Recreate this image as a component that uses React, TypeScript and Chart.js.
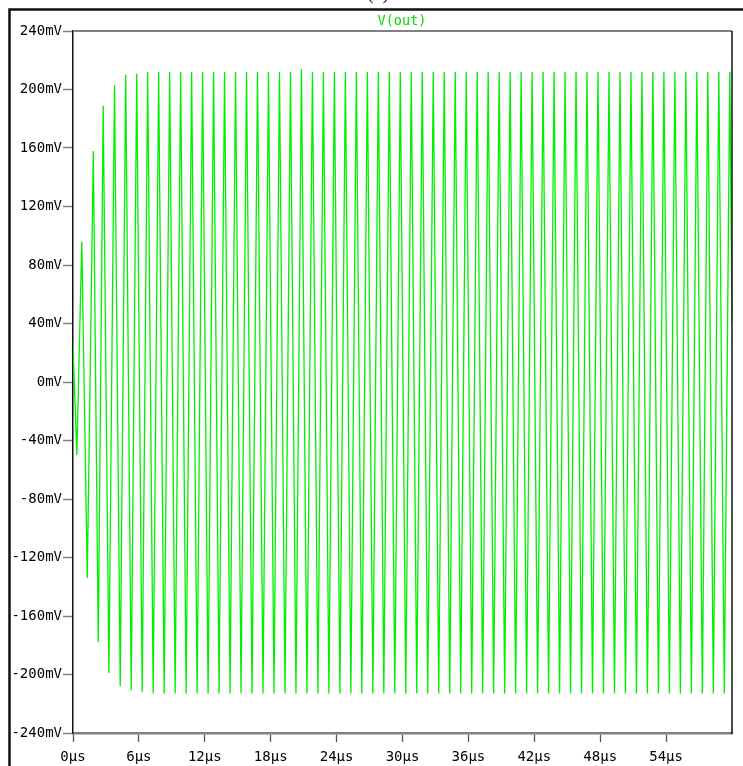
import React, { useEffect, useRef } from "react";
import { Chart, registerables } from "chart.js";

Chart.register(...registerables);

// Waveform V(out): start value, then alternating trough / peak extrema (time in µs, value in mV)
const startTime = 0;
const startValue = 25;

const troughTimes = [
  0.35, 1.3, 2.3, 3.27, 4.3, 5.3, 6.3, 7.3, 8.3, 9.3,
  10.3, 11.3, 12.3, 13.3, 14.3, 15.3, 16.3, 17.3, 18.3, 19.3,
  20.3, 21.3, 22.3, 23.3, 24.3, 25.3, 26.3, 27.3, 28.3, 29.3,
  30.3, 31.3, 32.3, 33.3, 34.3, 35.3, 36.3, 37.3, 38.3, 39.3,
  40.3, 41.3, 42.3, 43.3, 44.3, 45.3, 46.3, 47.3, 48.3, 49.3,
  50.3, 51.3, 52.3, 53.3, 54.3, 55.3, 56.3, 57.3, 58.3, 59.3,
];
const troughValues = [
  -50, -134, -178, -199, -208, -211, -212, -213, -213, -213,
  -213, -213, -213, -213, -213, -213, -213, -213, -213, -213,
  -213, -213, -213, -213, -213, -213, -213, -213, -213, -213,
  -213, -213, -213, -213, -213, -213, -213, -213, -213, -213,
  -213, -213, -213, -213, -213, -213, -213, -213, -213, -213,
  -213, -213, -213, -213, -213, -213, -213, -213, -213, -213,
];
const peakTimes = [
  0.8, 1.85, 2.75, 3.78, 4.8, 5.8, 6.8, 7.8, 8.8, 9.8,
  10.8, 11.8, 12.8, 13.8, 14.8, 15.8, 16.8, 17.8, 18.8, 19.8,
  20.8, 21.8, 22.8, 23.8, 24.8, 25.8, 26.8, 27.8, 28.8, 29.8,
  30.8, 31.8, 32.8, 33.8, 34.8, 35.8, 36.8, 37.8, 38.8, 39.8,
  40.8, 41.8, 42.8, 43.8, 44.8, 45.8, 46.8, 47.8, 48.8, 49.8,
  50.8, 51.8, 52.8, 53.8, 54.8, 55.8, 56.8, 57.8, 58.8, 59.8,
];
const peakValues = [
  96, 158, 189, 203, 210, 211, 212, 212, 212, 212,
  212, 212, 212, 212, 212, 212, 212, 212, 212, 212,
  214, 212, 212, 212, 212, 212, 212, 212, 212, 212,
  212, 212, 212, 212, 212, 212, 212, 212, 212, 212,
  212, 212, 212, 212, 212, 212, 212, 212, 212, 212,
  212, 212, 212, 212, 212, 212, 212, 212, 212, 212,
];
const endTime = 60;
const endValue = 40;

const yTickValues = [240, 200, 160, 120, 80, 40, 0, -40, -80, -120, -160, -200, -240];
const xTickValues = [0, 6, 12, 18, 24, 30, 36, 42, 48, 54];
const xTickLabels = ["0µs", "6µs", "12µs", "18µs", "24µs", "30µs", "36µs", "42µs", "48µs", "54µs"];
const traceName = "V(out)";
const panelLabel = "(a)";

const MONO = "'DejaVu Sans Mono', monospace";

export default function App() {
  const ref = useRef<HTMLCanvasElement | null>(null);

  useEffect(() => {
    if (!ref.current) return;
    const points: { x: number; y: number }[] = [{ x: startTime, y: startValue }];
    for (let i = 0; i < troughTimes.length; i++) {
      points.push({ x: troughTimes[i], y: troughValues[i] });
      if (i < peakTimes.length) points.push({ x: peakTimes[i], y: peakValues[i] });
    }
    points.push({ x: endTime, y: endValue });

    const framePlugin = {
      id: "frame",
      afterDraw(chart: any) {
        const ctx = chart.ctx as CanvasRenderingContext2D;
        const a = chart.chartArea;
        ctx.save();
        // plot top border (gray)
        ctx.strokeStyle = "#808080";
        ctx.lineWidth = 2;
        ctx.beginPath();
        ctx.moveTo(a.left, a.top);
        ctx.lineTo(a.right, a.top);
        ctx.stroke();
        // plot right border (black)
        ctx.strokeStyle = "#111";
        ctx.lineWidth = 1.5;
        ctx.beginPath();
        ctx.moveTo(a.right, a.top);
        ctx.lineTo(a.right, a.bottom + 1);
        ctx.stroke();
        // outer frame
        ctx.strokeStyle = "#111";
        ctx.lineWidth = 2.5;
        ctx.beginPath();
        ctx.moveTo(9.5, chart.height);
        ctx.lineTo(9.5, 9.5);
        ctx.lineTo(chart.width, 9.5);
        ctx.stroke();
        // title
        ctx.fillStyle = "#00dd00";
        ctx.font = "13.5px " + MONO;
        ctx.textAlign = "center";
        ctx.textBaseline = "middle";
        ctx.fillText(traceName, 402, 21);
        // panel label (cut off at top)
        ctx.fillStyle = "#222";
        ctx.font = "20px 'Liberation Serif', serif";
        ctx.textBaseline = "alphabetic";
        ctx.fillText(panelLabel, 378, -1);
        ctx.restore();
      },
    };

    const chart = new Chart(ref.current, {
      type: "line",
      data: {
        datasets: [
          {
            label: traceName,
            data: points,
            borderColor: "#00f000",
            borderWidth: 1.3,
            pointRadius: 0,
            tension: 0,
            fill: false,
          },
        ],
      },
      options: {
        animation: false,
        responsive: false,
        devicePixelRatio: 1,
        layout: { padding: { top: 31, right: 11, left: 0, bottom: 0 } },
        plugins: { legend: { display: false }, tooltip: { enabled: false }, title: { display: false } },
        scales: {
          x: {
            type: "linear",
            min: 0,
            max: 60,
            afterBuildTicks: (s: any) => {
              s.ticks = xTickValues.map((v) => ({ value: v }));
            },
            afterFit: (s: any) => {
              s.height = 33;
            },
            ticks: {
              autoSkip: false,
              maxRotation: 0,
              padding: 7,
              color: "#000",
              font: { family: MONO, size: 14 },
              callback: (v: any) => {
                const i = xTickValues.indexOf(Number(v));
                return i >= 0 ? xTickLabels[i] : "";
              },
            },
            grid: { drawOnChartArea: false, drawTicks: true, tickLength: 9, tickColor: "#555", tickWidth: 1.3 },
            border: { color: "#808080", width: 2.5 },
          },
          y: {
            type: "linear",
            min: -240,
            max: 240,
            afterBuildTicks: (s: any) => {
              s.ticks = yTickValues.map((v) => ({ value: v }));
            },
            afterFit: (s: any) => {
              s.width = 73;
            },
            ticks: {
              autoSkip: false,
              padding: 1,
              color: "#000",
              font: { family: MONO, size: 14 },
              callback: (v: any) => `${v}mV`,
            },
            grid: { drawOnChartArea: false, drawTicks: true, tickLength: 10, tickColor: "#808080", tickWidth: 1.5 },
            border: { color: "#111", width: 1.5 },
          },
        },
      },
      plugins: [framePlugin],
    });
    return () => chart.destroy();
  }, []);

  return (
    <div style={{ position: "absolute", left: 0, top: 0, width: 743, height: 766, background: "#fff" }}>
      <canvas ref={ref} width={743} height={766} style={{ width: 743, height: 766 }} />
    </div>
  );
}
